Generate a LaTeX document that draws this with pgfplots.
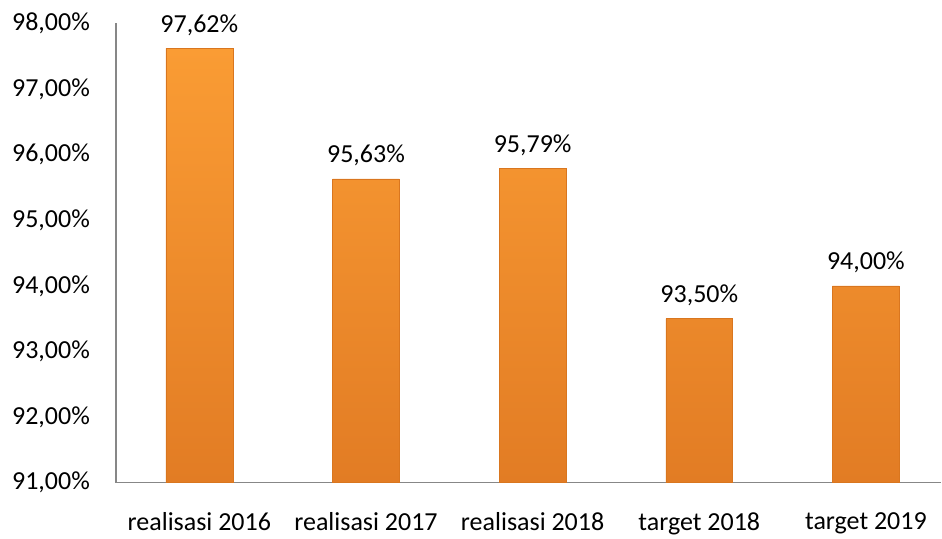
\documentclass[border=0pt]{standalone}
\usepackage{pgfplots}
\pgfplotsset{compat=1.18}
\usepackage{fontspec}
\setmainfont{Carlito}
\definecolor{bartop}{HTML}{FA9C34}
\definecolor{barmid}{HTML}{F39030}
\definecolor{barbot}{HTML}{E27C24}
\definecolor{baredge}{HTML}{D9761F}
\definecolor{axgray}{HTML}{878787}
\begin{document}
\begin{tikzpicture}
\begin{axis}[
 at={(0,0)}, anchor=south west, scale only axis,
 width=825.9pt, height=459.5pt,
 xmin=-0.5, xmax=4.453, ymin=91, ymax=98,
 ybar, bar width=67pt,
 axis lines=left, axis line style={draw=axgray, line width=1.2pt, -},
 xtick=data, xticklabels={realisasi 2016, realisasi 2017, realisasi 2018, target 2018, target 2019},
 ytick={91,92,...,98},
 major tick length=0pt,
 tick style={draw=none},
 font=\fontsize{26}{30}\selectfont,
 /pgf/number format/assume math mode=true,
 yticklabel={\pgfmathprintnumber[fixed,zerofill,precision=2,use comma]{\tick}\%},
 yticklabel style={anchor=east, inner sep=0pt, xshift=-26pt},
 xticklabel style={anchor=north, inner sep=0pt, yshift=-30pt},
 nodes near coords={\pgfmathprintnumber[fixed,zerofill,precision=2,use comma]{\pgfplotspointmeta}\%},
 nodes near coords style={anchor=base, inner sep=0pt, yshift=16pt, text=black},
 clip mode=individual,
]
\addplot[draw=baredge, line width=0.6pt, top color=bartop, middle color=barmid, bottom color=barbot] coordinates {(0,97.62) (1,95.63) (2,95.79) (3,93.50) (4,94.00)};
\end{axis}
\useasboundingbox (-116.1pt,-56pt) rectangle (825.9pt,483pt);
\end{tikzpicture}
\end{document}
